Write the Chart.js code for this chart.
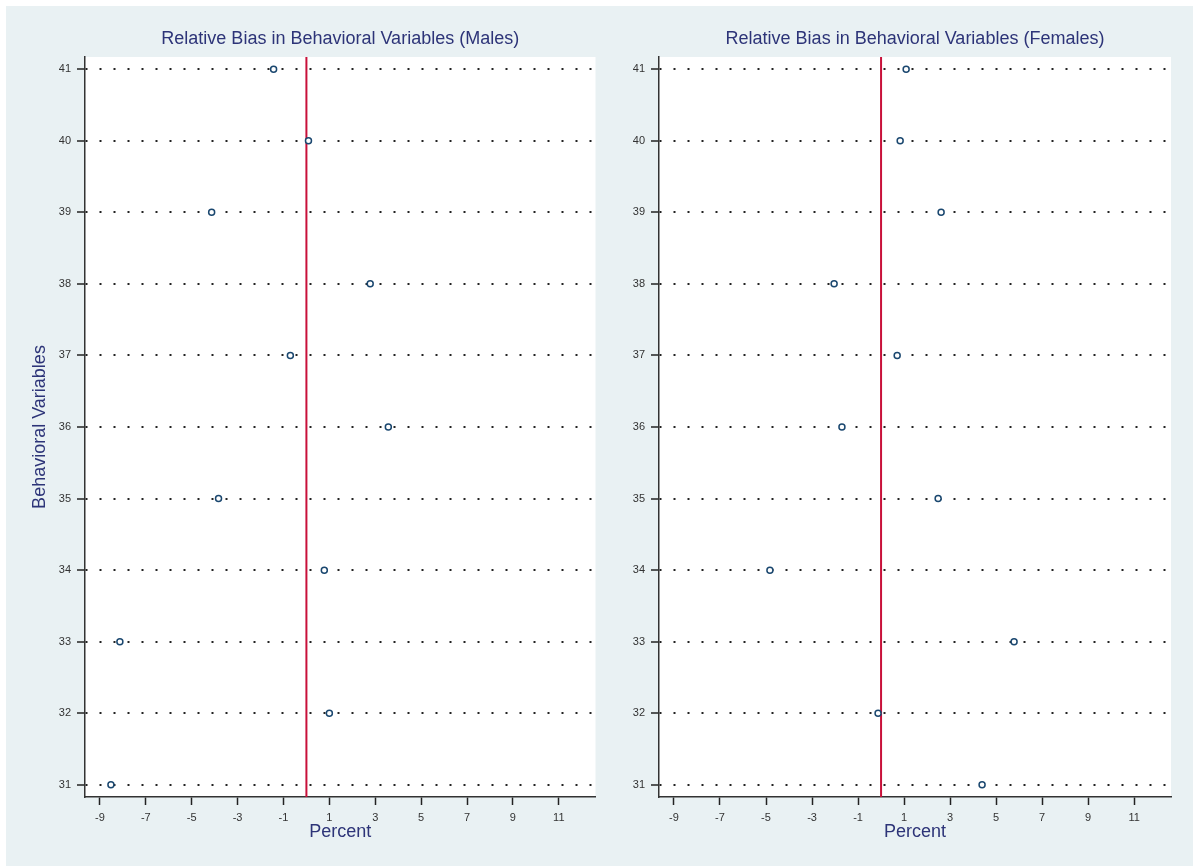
<!DOCTYPE html>
<html>
<head>
<meta charset="utf-8">
<script src="https://cdn.jsdelivr.net/npm/chart.js@4"></script>
<style>
  body { margin: 0; background: #fff; width: 1193px; height: 867px; overflow: hidden; position: relative; }
  #bg { position: absolute; left: 6px; top: 6px; right: 0; bottom: 1px; background: #e9f1f3; }
  canvas { position: absolute; top: 0; }
  #males { left: 0; }
  #females { left: 600px; }
</style>
</head>
<body>
<div id="bg"></div>
<canvas id="males" width="600" height="867"></canvas>
<canvas id="females" width="593" height="867"></canvas>
<script>
// categories (behavioral variable ids) and values
const variables = [41, 40, 39, 38, 37, 36, 35, 34, 33, 32, 31];
const malesBias = [-1.43, 0.09, -4.13, 2.78, -0.7, 3.57, -3.83, 0.78, -8.13, 1.0, -8.52];
const femalesBias = [1.09, 0.83, 2.61, -2.04, 0.7, -1.7, 2.48, -4.83, 5.78, -0.13, 4.39];
const xTicks = [-9, -7, -5, -3, -1, 1, 3, 5, 7, 9, 11];
const yTicks = [31, 32, 33, 34, 35, 36, 37, 38, 39, 40, 41];
const xMin = -9.65, xMax = 12.6;
const yMin = 30.83, yMax = 41.17;
const refValue = 0;

const navy = '#1a476f';
const titleColor = '#2d3478';
const tickFont = { family: 'Liberation Sans', size: 11 };

// white plot region + panel title centred over the plot
const panelPlugin = {
  id: 'panel',
  beforeDraw(chart) {
    const a = chart.chartArea, c = chart.ctx;
    c.save();
    c.fillStyle = '#fff';
    c.fillRect(a.left, a.top, a.right - a.left, a.bottom - a.top);
    c.restore();
  },
  afterDraw(chart) {
    const a = chart.chartArea, c = chart.ctx;
    c.save();
    c.font = '18px "Liberation Sans"';
    c.fillStyle = titleColor;
    c.textAlign = 'center';
    c.textBaseline = 'middle';
    c.fillText(chart.options.plugins.panel.text, (a.left + a.right) / 2, 39);
    c.restore();
  }
};

function makePanel(id, title, values, yAxisWidth, padRight, showYTitle) {
  new Chart(document.getElementById(id), {
    type: 'scatter',
    data: {
      datasets: [{
        data: values.map((v, i) => ({ x: v, y: variables[i] })),
        pointStyle: 'circle',
        pointRadius: 3,
        pointHoverRadius: 3,
        borderWidth: 1.5,
        borderColor: navy,
        backgroundColor: '#fff',
        order: 1
      }, {
        type: 'line',
        data: [{ x: refValue, y: yMin }, { x: refValue, y: yMax }],
        borderColor: '#c8103a',
        borderWidth: 2,
        pointRadius: 0,
        order: 2
      }]
    },
    options: {
      responsive: false,
      animation: false,
      layout: { padding: { top: 57, right: padRight, bottom: 0, left: 0 } },
      plugins: {
        legend: { display: false },
        tooltip: { enabled: false },
        panel: { text: title }
      },
      scales: {
        x: {
          type: 'linear',
          min: xMin, max: xMax,
          afterBuildTicks: s => { s.ticks = xTicks.map(v => ({ value: v })); },
          afterFit: s => { s.height = 70; },
          ticks: { color: '#333', font: tickFont, padding: 6, maxRotation: 0, autoSkip: false },
          grid: { drawOnChartArea: false, drawTicks: true, tickLength: 8, tickColor: '#222', tickWidth: 1.5 },
          border: { display: true, color: '#333', width: 1.5 },
          title: {
            display: true, text: 'Percent', color: titleColor,
            font: { family: 'Liberation Sans', size: 18 },
            padding: { top: 0, bottom: 24 }
          }
        },
        y: {
          type: 'linear',
          min: yMin, max: yMax,
          afterBuildTicks: s => { s.ticks = yTicks.map(v => ({ value: v })); },
          afterFit: s => { s.width = yAxisWidth; },
          ticks: { color: '#333', font: tickFont, padding: 6, autoSkip: false },
          grid: {
            drawOnChartArea: true, drawTicks: true, tickLength: 8,
            color: '#222', lineWidth: 2,
            tickColor: '#222', tickWidth: 1.5, tickBorderDash: []
          },
          border: { display: true, color: '#333', width: 1.5, dash: [2, 12] },
          title: {
            display: showYTitle, text: 'Behavioral Variables', color: titleColor,
            font: { family: 'Liberation Sans', size: 18 },
            padding: { top: 29, bottom: 0 }
          }
        }
      }
    },
    plugins: [panelPlugin]
  });
}

makePanel('males', 'Relative Bias in Behavioral Variables (Males)', malesBias, 85, 3, true);
makePanel('females', 'Relative Bias in Behavioral Variables (Females)', femalesBias, 59, 22, false);
</script>
</body>
</html>
